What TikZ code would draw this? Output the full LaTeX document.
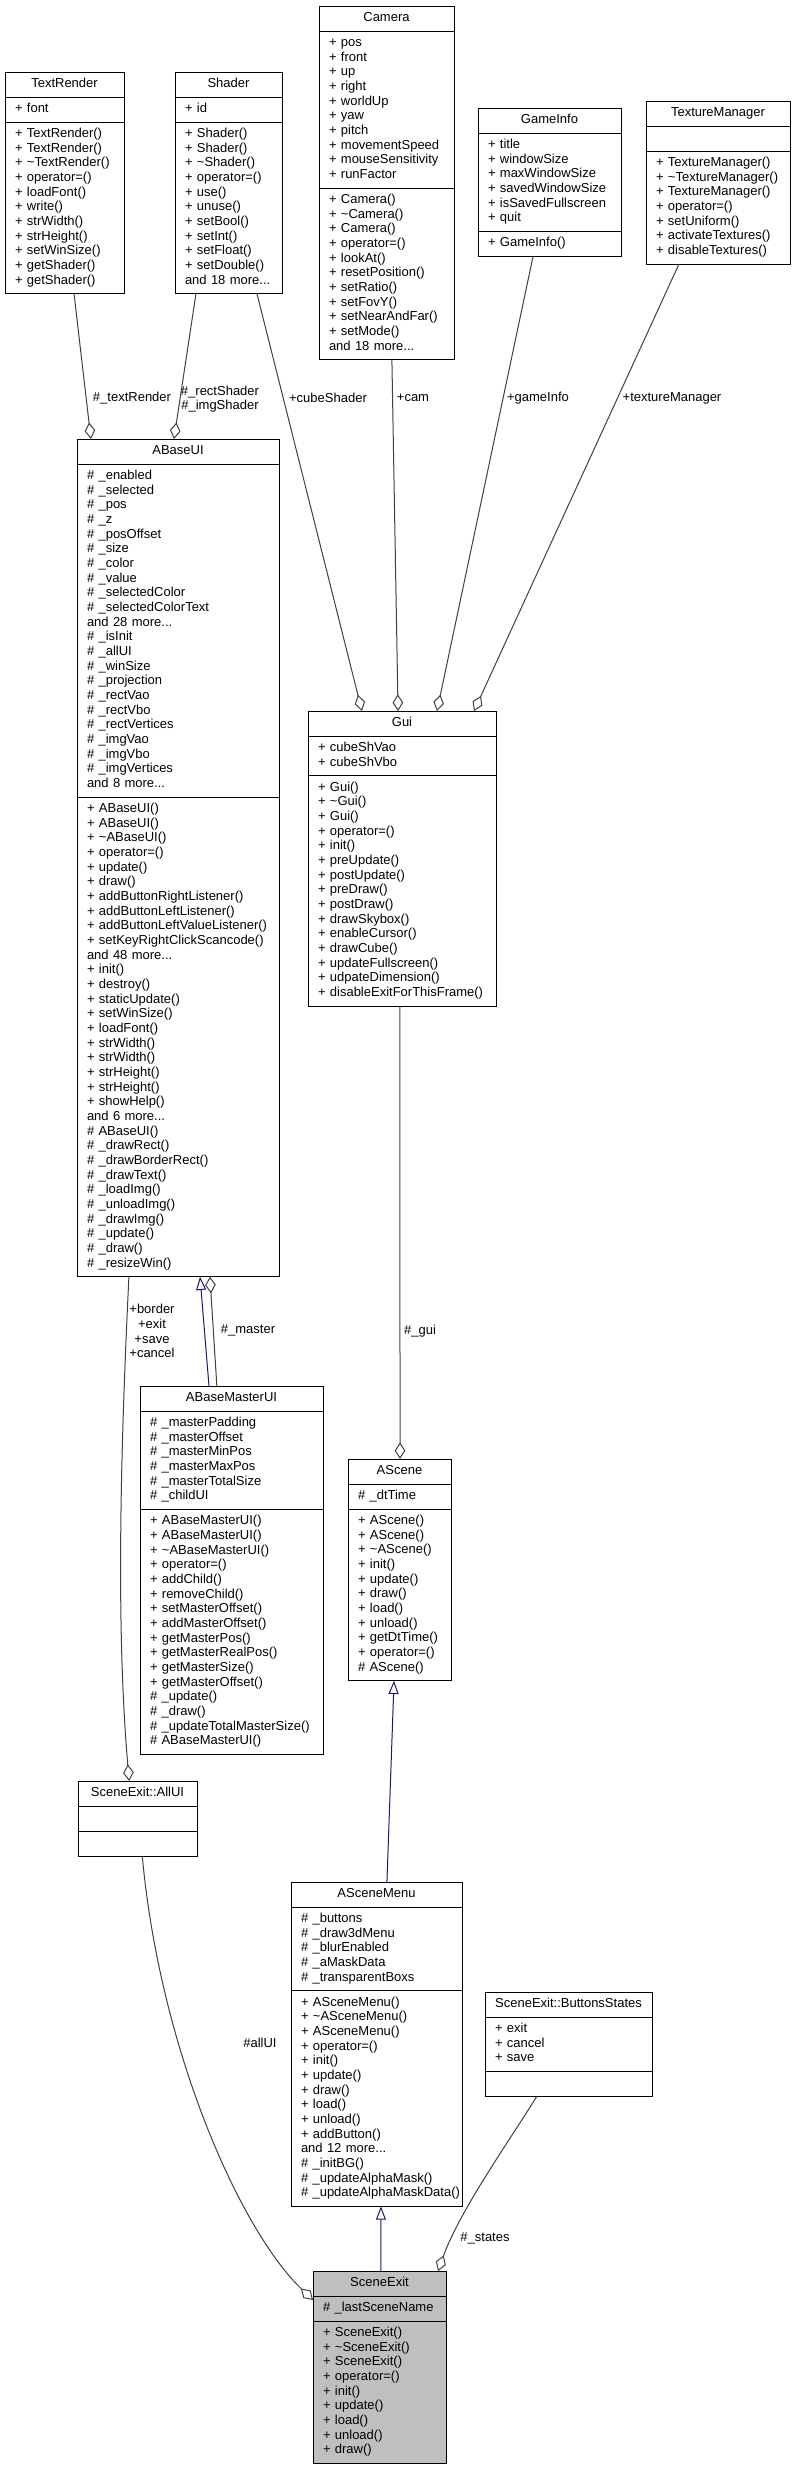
\documentclass[tikz,border=0pt]{standalone}
\usepackage{fontspec}
\setmainfont{Liberation Sans}
\usepackage{tikz}
\usetikzlibrary{positioning,calc,arrows.meta}
\definecolor{edgegray}{HTML}{404040}
\definecolor{inhblue}{HTML}{191970}
\definecolor{selgray}{HTML}{BFBFBF}
\hyphenpenalty=10000
\exhyphenpenalty=10000

\begin{document}
\begin{tikzpicture}[x=0.75pt, y=-0.75pt,
		head/.style = {draw, line width=0.75pt, anchor=north west, outer sep=0pt, inner xsep=7.5pt, inner ysep=3.875pt,
			align=center, font=\fontsize{9.75}{11}\selectfont, execute at begin node=\strut, execute at end node=\strut},
		part/.style = {head, align=left},
		agg/.style = {draw=edgegray, line width=0.75pt, -{Diamond[open,length=12.5pt,width=8pt]}},
		inh/.style = {draw=inhblue, line width=0.75pt, -{Triangle[open,length=10pt,width=7.5pt]}},
		lbl/.style = {font=\fontsize{9.75}{11}\selectfont, inner sep=0pt, align=center}]
	\useasboundingbox (0,0) rectangle (795,2471);

	% top row
	\node[head, text width=74.25pt] (textrender) at (5,72) {TextRender};
	\node[part, text width=74.25pt, below=0pt of textrender] (textrender-a) {+~font};
	\node[part, text width=74.25pt, below=0pt of textrender-a] (textrender-o) {+~TextRender()\\+~TextRender()\\+~\textasciitilde TextRender()\\+~operator=()\\+~loadFont()\\+~write()\\+~strWidth()\\+~strHeight()\\+~setWinSize()\\+~getShader()\\+~getShader()};

	\node[head, text width=65.25pt] (shader) at (175,72) {Shader};
	\node[part, text width=65.25pt, below=0pt of shader] (shader-a) {+~id};
	\node[part, text width=65.25pt, below=0pt of shader-a] (shader-o) {+~Shader()\\+~Shader()\\+~\textasciitilde Shader()\\+~operator=()\\+~use()\\+~unuse()\\+~setBool()\\+~setInt()\\+~setFloat()\\+~setDouble()\\and~18~more...};

	\node[head, text width=86.25pt] (camera) at (319,6) {Camera};
	\node[part, text width=86.25pt, below=0pt of camera] (camera-a) {+~pos\\+~front\\+~up\\+~right\\+~worldUp\\+~yaw\\+~pitch\\+~movementSpeed\\+~mouseSensitivity\\+~runFactor};
	\node[part, text width=86.25pt, below=0pt of camera-a] (camera-o) {+~Camera()\\+~\textasciitilde Camera()\\+~Camera()\\+~operator=()\\+~lookAt()\\+~resetPosition()\\+~setRatio()\\+~setFovY()\\+~setNearAndFar()\\+~setMode()\\and~18~more...};

	\node[head, text width=92.25pt] (gameinfo) at (478,108) {GameInfo};
	\node[part, text width=92.25pt, below=0pt of gameinfo] (gameinfo-a) {+~title\\+~windowSize\\+~maxWindowSize\\+~savedWindowSize\\+~isSavedFullscreen\\+~quit};
	\node[part, text width=92.25pt, below=0pt of gameinfo-a] (gameinfo-o) {+~GameInfo()};

	\node[head, text width=93pt] (texturemanager) at (646,101) {TextureManager};
	\node[part, text width=93pt, below=0pt of texturemanager] (texturemanager-a) {};
	\node[part, text width=93pt, below=0pt of texturemanager-a] (texturemanager-o) {+~TextureManager()\\+~\textasciitilde TextureManager()\\+~TextureManager()\\+~operator=()\\+~setUniform()\\+~activateTextures()\\+~disableTextures()};

	% middle
	\node[head, text width=136.5pt] (abaseui) at (77,439) {ABaseUI};
	\node[part, text width=136.5pt, below=0pt of abaseui] (abaseui-a) {\#~\_enabled\\\#~\_selected\\\#~\_pos\\\#~\_z\\\#~\_posOffset\\\#~\_size\\\#~\_color\\\#~\_value\\\#~\_selectedColor\\\#~\_selectedColorText\\and~28~more...\\\#~\_isInit\\\#~\_allUI\\\#~\_winSize\\\#~\_projection\\\#~\_rectVao\\\#~\_rectVbo\\\#~\_rectVertices\\\#~\_imgVao\\\#~\_imgVbo\\\#~\_imgVertices\\and~8~more...};
	\node[part, text width=136.5pt, below=0pt of abaseui-a] (abaseui-o) {+~ABaseUI()\\+~ABaseUI()\\+~\textasciitilde ABaseUI()\\+~operator=()\\+~update()\\+~draw()\\+~addButtonRightListener()\\+~addButtonLeftListener()\\+~addButtonLeftValueListener()\\+~setKeyRightClickScancode()\\and~48~more...\\+~init()\\+~destroy()\\+~staticUpdate()\\+~setWinSize()\\+~loadFont()\\+~strWidth()\\+~strWidth()\\+~strHeight()\\+~strHeight()\\+~showHelp()\\and~6~more...\\\#~ABaseUI()\\\#~\_drawRect()\\\#~\_drawBorderRect()\\\#~\_drawText()\\\#~\_loadImg()\\\#~\_unloadImg()\\\#~\_drawImg()\\\#~\_update()\\\#~\_draw()\\\#~\_resizeWin()};

	\node[head, text width=126pt] (gui) at (308,711) {Gui};
	\node[part, text width=126pt, below=0pt of gui] (gui-a) {+~cubeShVao\\+~cubeShVbo};
	\node[part, text width=126pt, below=0pt of gui-a] (gui-o) {+~Gui()\\+~\textasciitilde Gui()\\+~Gui()\\+~operator=()\\+~init()\\+~preUpdate()\\+~postUpdate()\\+~preDraw()\\+~postDraw()\\+~drawSkybox()\\+~enableCursor()\\+~drawCube()\\+~updateFullscreen()\\+~udpateDimension()\\+~disableExitForThisFrame()};

	\node[head, text width=122.25pt] (abasemasterui) at (140,1386) {ABaseMasterUI};
	\node[part, text width=122.25pt, below=0pt of abasemasterui] (abasemasterui-a) {\#~\_masterPadding\\\#~\_masterOffset\\\#~\_masterMinPos\\\#~\_masterMaxPos\\\#~\_masterTotalSize\\\#~\_childUI};
	\node[part, text width=122.25pt, below=0pt of abasemasterui-a] (abasemasterui-o) {+~ABaseMasterUI()\\+~ABaseMasterUI()\\+~\textasciitilde ABaseMasterUI()\\+~operator=()\\+~addChild()\\+~removeChild()\\+~setMasterOffset()\\+~addMasterOffset()\\+~getMasterPos()\\+~getMasterRealPos()\\+~getMasterSize()\\+~getMasterOffset()\\\#~\_update()\\\#~\_draw()\\\#~\_updateTotalMasterSize()\\\#~ABaseMasterUI()};

	\node[head, text width=62.25pt] (ascene) at (348,1459) {AScene};
	\node[part, text width=62.25pt, below=0pt of ascene] (ascene-a) {\#~\_dtTime};
	\node[part, text width=62.25pt, below=0pt of ascene-a] (ascene-o) {+~AScene()\\+~AScene()\\+~\textasciitilde AScene()\\+~init()\\+~update()\\+~draw()\\+~load()\\+~unload()\\+~getDtTime()\\+~operator=()\\\#~AScene()};

	% bottom
	\node[head, text width=74.25pt] (allui) at (78,1781) {SceneExit::AllUI};
	\node[part, text width=74.25pt, below=0pt of allui] (allui-a) {};
	\node[part, text width=74.25pt, below=0pt of allui-a] (allui-o) {};

	\node[head, text width=113.25pt] (ascenemenu) at (291,1882) {ASceneMenu};
	\node[part, text width=113.25pt, below=0pt of ascenemenu] (ascenemenu-a) {\#~\_buttons\\\#~\_draw3dMenu\\\#~\_blurEnabled\\\#~\_aMaskData\\\#~\_transparentBoxs};
	\node[part, text width=113.25pt, below=0pt of ascenemenu-a] (ascenemenu-o) {+~ASceneMenu()\\+~\textasciitilde ASceneMenu()\\+~ASceneMenu()\\+~operator=()\\+~init()\\+~update()\\+~draw()\\+~load()\\+~unload()\\+~addButton()\\and~12~more...\\\#~\_initBG()\\\#~\_updateAlphaMask()\\\#~\_updateAlphaMaskData()};

	\node[head, text width=110.25pt] (buttonsstates) at (485,1992) {SceneExit::ButtonsStates};
	\node[part, text width=110.25pt, below=0pt of buttonsstates] (buttonsstates-a) {+~exit\\+~cancel\\+~save};
	\node[part, text width=110.25pt, below=0pt of buttonsstates-a] (buttonsstates-o) {};

	\node[head, fill=selgray, text width=84.75pt] (sceneexit) at (313,2271) {SceneExit};
	\node[part, fill=selgray, text width=84.75pt, below=0pt of sceneexit] (sceneexit-a) {\#~\_lastSceneName};
	\node[part, fill=selgray, text width=84.75pt, below=0pt of sceneexit-a] (sceneexit-o) {+~SceneExit()\\+~\textasciitilde SceneExit()\\+~SceneExit()\\+~operator=()\\+~init()\\+~update()\\+~load()\\+~unload()\\+~draw()};

	% connectors
	\draw[agg] ($(textrender-o.south west)!0.58!(textrender-o.south east)$) -- ($(abaseui.north west)!0.069!(abaseui.north east)$);
	\draw[agg] ($(shader-o.south west)!0.196!(shader-o.south east)$) -- ($(abaseui.north west)!0.48!(abaseui.north east)$);
	\draw[agg] ($(shader-o.south west)!0.766!(shader-o.south east)$) -- ($(gui.north west)!0.287!(gui.north east)$);
	\draw[agg] ($(camera-o.south west)!0.54!(camera-o.south east)$) -- ($(gui.north west)!0.479!(gui.north east)$);
	\draw[agg] ($(gameinfo-o.south west)!0.385!(gameinfo-o.south east)$) -- ($(gui.north west)!0.686!(gui.north east)$);
	\draw[agg] ($(texturemanager-o.south west)!0.229!(texturemanager-o.south east)$) -- ($(gui.north west)!0.883!(gui.north east)$);
	\draw[inh] ($(abasemasterui.north west)!0.377!(abasemasterui.north east)$) -- ($(abaseui-o.south west)!0.609!(abaseui-o.south east)$);
	\draw[agg] ($(abasemasterui.north west)!0.42!(abasemasterui.north east)$) -- ($(abaseui-o.south west)!0.658!(abaseui-o.south east)$);
	\draw[agg] ($(abaseui-o.south west)!0.257!(abaseui-o.south east)$) .. controls (118,1500) and (118,1650) .. ($(allui.north west)!0.43!(allui.north east)$);
	\draw[agg] ($(gui-o.south west)!0.489!(gui-o.south east)$) -- ($(ascene.north west)!0.505!(ascene.north east)$);
	\draw[inh] ($(ascenemenu.north west)!0.561!(ascenemenu.north east)$) -- ($(ascene-o.south west)!0.447!(ascene-o.south east)$);
	\draw[inh] ($(sceneexit.north west)!0.511!(sceneexit.north east)$) -- ($(ascenemenu-o.south west)!0.526!(ascenemenu-o.south east)$);
	\draw[agg] ($(allui-o.south west)!0.54!(allui-o.south east)$) .. controls (160,2050) and (240,2230) .. ([yshift=-3pt]sceneexit.south west);
	\draw[agg] ($(buttonsstates-o.south west)!0.31!(buttonsstates-o.south east)$) .. controls (510,2140) and (460,2210) .. ($(sceneexit.north west)!0.94!(sceneexit.north east)$);

	% labels
	\node[lbl] (l-textrender) at (132,398) {\#\_textRender};
	\node[lbl] (l-shaders) at (220,399) {\#\_rectShader\\\#\_imgShader};
	\node[lbl] (l-cubeshader) at (328,398) {+cubeShader};
	\node[lbl] (l-cam) at (413,398) {+cam};
	\node[lbl] (l-gameinfo) at (538,398) {+gameInfo};
	\node[lbl] (l-texturemanager) at (672,398) {+textureManager};
	\node[lbl] (l-buttons) at (152,1331) {+border\\+exit\\+save\\+cancel};
	\node[lbl] (l-master) at (248,1330) {\#\_master};
	\node[lbl] (l-gui) at (420,1331) {\#\_gui};
	\node[lbl] (l-allui) at (260,2043) {\#allUI};
	\node[lbl] (l-states) at (485,2238) {\#\_states};
\end{tikzpicture}
\end{document}
